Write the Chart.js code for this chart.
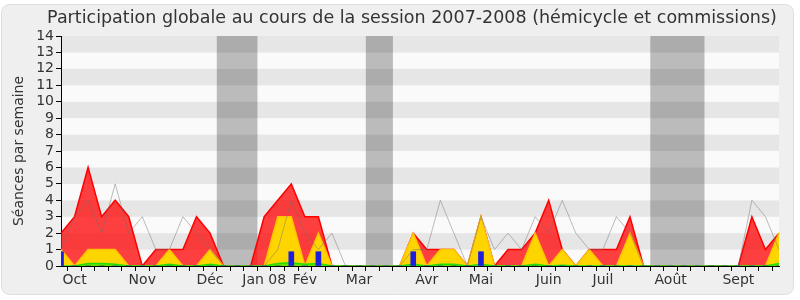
<!DOCTYPE html>
<html>
<head>
<meta charset="utf-8">
<script src="https://cdn.jsdelivr.net/npm/chart.js@4"></script>
<style>
  body { margin: 0; background: #fff; }
  canvas { display: block; }
</style>
</head>
<body>
<canvas id="participation" width="800" height="300"></canvas>
<script>
// semaines de la session, libellé du mois sur la 1re semaine
var semaines = ['', 'Oct', '', '', '', '', 'Nov', '', '', '', '', 'Déc', '', '', '', 'Jan 08', '', '', 'Fév', '', '', '', 'Mar', '', '', '', '', 'Avr', '', '', '', 'Mai', '', '', '', '', 'Juin', '', '', '', 'Juil', '', '', '', '', 'Août', '', '', '', '', 'Sept', '', '', ''];

// total des séances (rouge)
var total = [2, 3, 6, 3, 4, 3, 0, 1, 1, 1, 3, 2, 0, 0, 0, 3, 4, 5, 3, 3, 0, 0, 0, 0, 0, 0, 2, 1, 1, 1, 0, 3, 0, 1, 1, 2, 4, 1, 0, 1, 1, 1, 3, 0, 0, 0, 0, 0, 0, 0, 0, 3, 1, 2];
// séances en hémicycle (jaune)
var hemicycle = [1, 0, 1, 1, 1, 0, 0, 0, 1, 0, 0, 1, 0, 0, 0, 0, 3, 3, 0, 2, 0, 0, 0, 0, 0, 0, 2, 0, 1, 1, 0, 3, 0, 0, 0, 2, 0, 1, 0, 1, 0, 0, 2, 0, 0, 0, 0, 0, 0, 0, 0, 0, 0, 2];
// interventions (vert)
var interventions = [0, 0, 0.15, 0.15, 0.1, 0, 0, 0, 0.1, 0, 0, 0.1, 0, 0, 0, 0, 0.15, 0.2, 0.1, 0.15, 0, 0, 0, 0, 0, 0, 0.1, 0, 0.1, 0.1, 0, 0.1, 0, 0, 0, 0.1, 0, 0.05, 0, 0, 0, 0, 0, 0, 0, 0, 0, 0, 0, 0, 0, 0, 0, 0.15];
// questions (bleu)
var questions = [0.87, 0, 0, 0, 0, 0, 0, 0, 0, 0, 0, 0, 0, 0, 0, 0, 0, 0.87, 0, 0.87, 0, 0, 0, 0, 0, 0, 0.87, 0, 0, 0, 0, 0.87, 0, 0, 0, 0, 0, 0, 0, 0, 0, 0, 0, 0, 0, 0, 0, 0, 0, 0, 0, 0, 0, 0];
// médiane des députés (gris)
var mediane = [1, 3, 4, 2, 5, 2, 3, 1, 1, 3, 2, 1, 0, 0, 0, 0, 1, 4, 2, 1, 2, 0, 0, 0, 0, 0, 1, 1, 4, 2, 0, 3, 1, 2, 1, 3, 2, 4, 2, 1, 1, 3, 2, 0, 0, 0, 0, 0, 0, 0, 0, 4, 3, 1];

// vacances parlementaires (semaines début / fin)
var vacancesDebut = [12, 23, 44];
var vacancesFin = [14, 24, 47];

var titre = 'Participation globale au cours de la session 2007-2008 (hémicycle et commissions)';

var fond = {
    id: 'fond',
    beforeDraw: function(chart) {
        var ctx = chart.ctx;
        var area = chart.chartArea;
        var x = chart.scales.x, y = chart.scales.y;
        ctx.save();
        // cadre arrondi
        ctx.fillStyle = '#fff';
        ctx.fillRect(0, 0, chart.width, chart.height);
        ctx.beginPath();
        ctx.roundRect(1.5, 4.5, 792, 290, 8);
        ctx.fillStyle = '#efefef';
        ctx.fill();
        ctx.strokeStyle = '#dedede';
        ctx.lineWidth = 1;
        ctx.stroke();
        // bandes horizontales
        for (var v = 0; v < 14; v++) {
            var y0 = y.getPixelForValue(v), y1 = y.getPixelForValue(v + 1);
            ctx.fillStyle = (v % 2 == 1) ? '#e6e6e6' : '#fafafa';
            ctx.fillRect(area.left, y1, area.right - area.left, y0 - y1);
        }
        // vacances
        ctx.fillStyle = 'rgba(0, 0, 0, 0.25)';
        for (var i = 0; i < vacancesDebut.length; i++) {
            var xa = x.getPixelForValue(vacancesDebut[i] - 0.5);
            var xb = x.getPixelForValue(vacancesFin[i] + 0.5);
            ctx.fillRect(xa, area.top, xb - xa, area.bottom - area.top);
        }
        // titre
        ctx.fillStyle = '#333';
        ctx.font = '17.5px "DejaVu Sans"';
        ctx.textAlign = 'center';
        ctx.textBaseline = 'middle';
        ctx.fillText(titre, 412, 18);
        ctx.restore();
    }
};

Chart.defaults.font.family = 'DejaVu Sans';
Chart.defaults.color = '#333';

var ctx = document.getElementById('participation').getContext('2d');
var chart = new Chart(ctx, {
    type: 'line',
    data: {
        labels: semaines,
        datasets: [
            {
                label: 'Médiane',
                data: mediane,
                borderColor: 'rgba(110, 110, 110, 0.45)',
                borderWidth: 1,
                pointRadius: 0,
                fill: false,
                tension: 0,
                order: 0
            },
            {
                type: 'bar',
                label: 'Questions',
                data: questions,
                backgroundColor: '#1e1ee0',
                barThickness: 5,
                order: 1
            },
            {
                label: 'Interventions',
                data: interventions,
                borderColor: '#22dd00',
                backgroundColor: 'rgba(60, 230, 0, 0.8)',
                borderWidth: 1.5,
                pointRadius: 0,
                fill: 'origin',
                tension: 0,
                order: 2
            },
            {
                label: 'Hémicycle',
                data: hemicycle,
                borderColor: '#ffc400',
                backgroundColor: '#ffd500',
                borderWidth: 1.5,
                pointRadius: 0,
                fill: 'origin',
                tension: 0,
                order: 3
            },
            {
                label: 'Total',
                data: total,
                borderColor: '#ff0000',
                backgroundColor: 'rgba(255, 10, 10, 0.78)',
                borderWidth: 1.5,
                pointRadius: 0,
                fill: 'origin',
                tension: 0,
                order: 4
            }
        ]
    },
    options: {
        responsive: false,
        animation: false,
        layout: {
            padding: { left: 0, right: 21, top: 36, bottom: 0 }
        },
        plugins: {
            legend: { display: false },
            tooltip: { enabled: false },
            title: { display: false }
        },
        scales: {
            x: {
                offset: false,
                grid: {
                    drawOnChartArea: false,
                    tickLength: 5,
                    color: '#000'
                },
                border: { color: '#000' },
                ticks: {
                    autoSkip: false,
                    maxRotation: 0,
                    padding: 1,
                    font: { size: 14 },
                    color: '#333'
                },
                afterFit: function(scale) { scale.height = 34; }
            },
            y: {
                min: 0,
                max: 14,
                grid: {
                    drawOnChartArea: false,
                    tickLength: 5,
                    color: '#000'
                },
                border: { color: '#000' },
                ticks: {
                    stepSize: 1,
                    autoSkip: false,
                    padding: 2,
                    font: { size: 14 },
                    color: '#333'
                },
                title: {
                    display: true,
                    text: 'Séances par semaine',
                    font: { size: 14 },
                    color: '#333',
                    padding: { top: 11, bottom: 0 }
                },
                afterFit: function(scale) { scale.width = 61; }
            }
        }
    },
    plugins: [fond]
});
</script>
</body>
</html>
